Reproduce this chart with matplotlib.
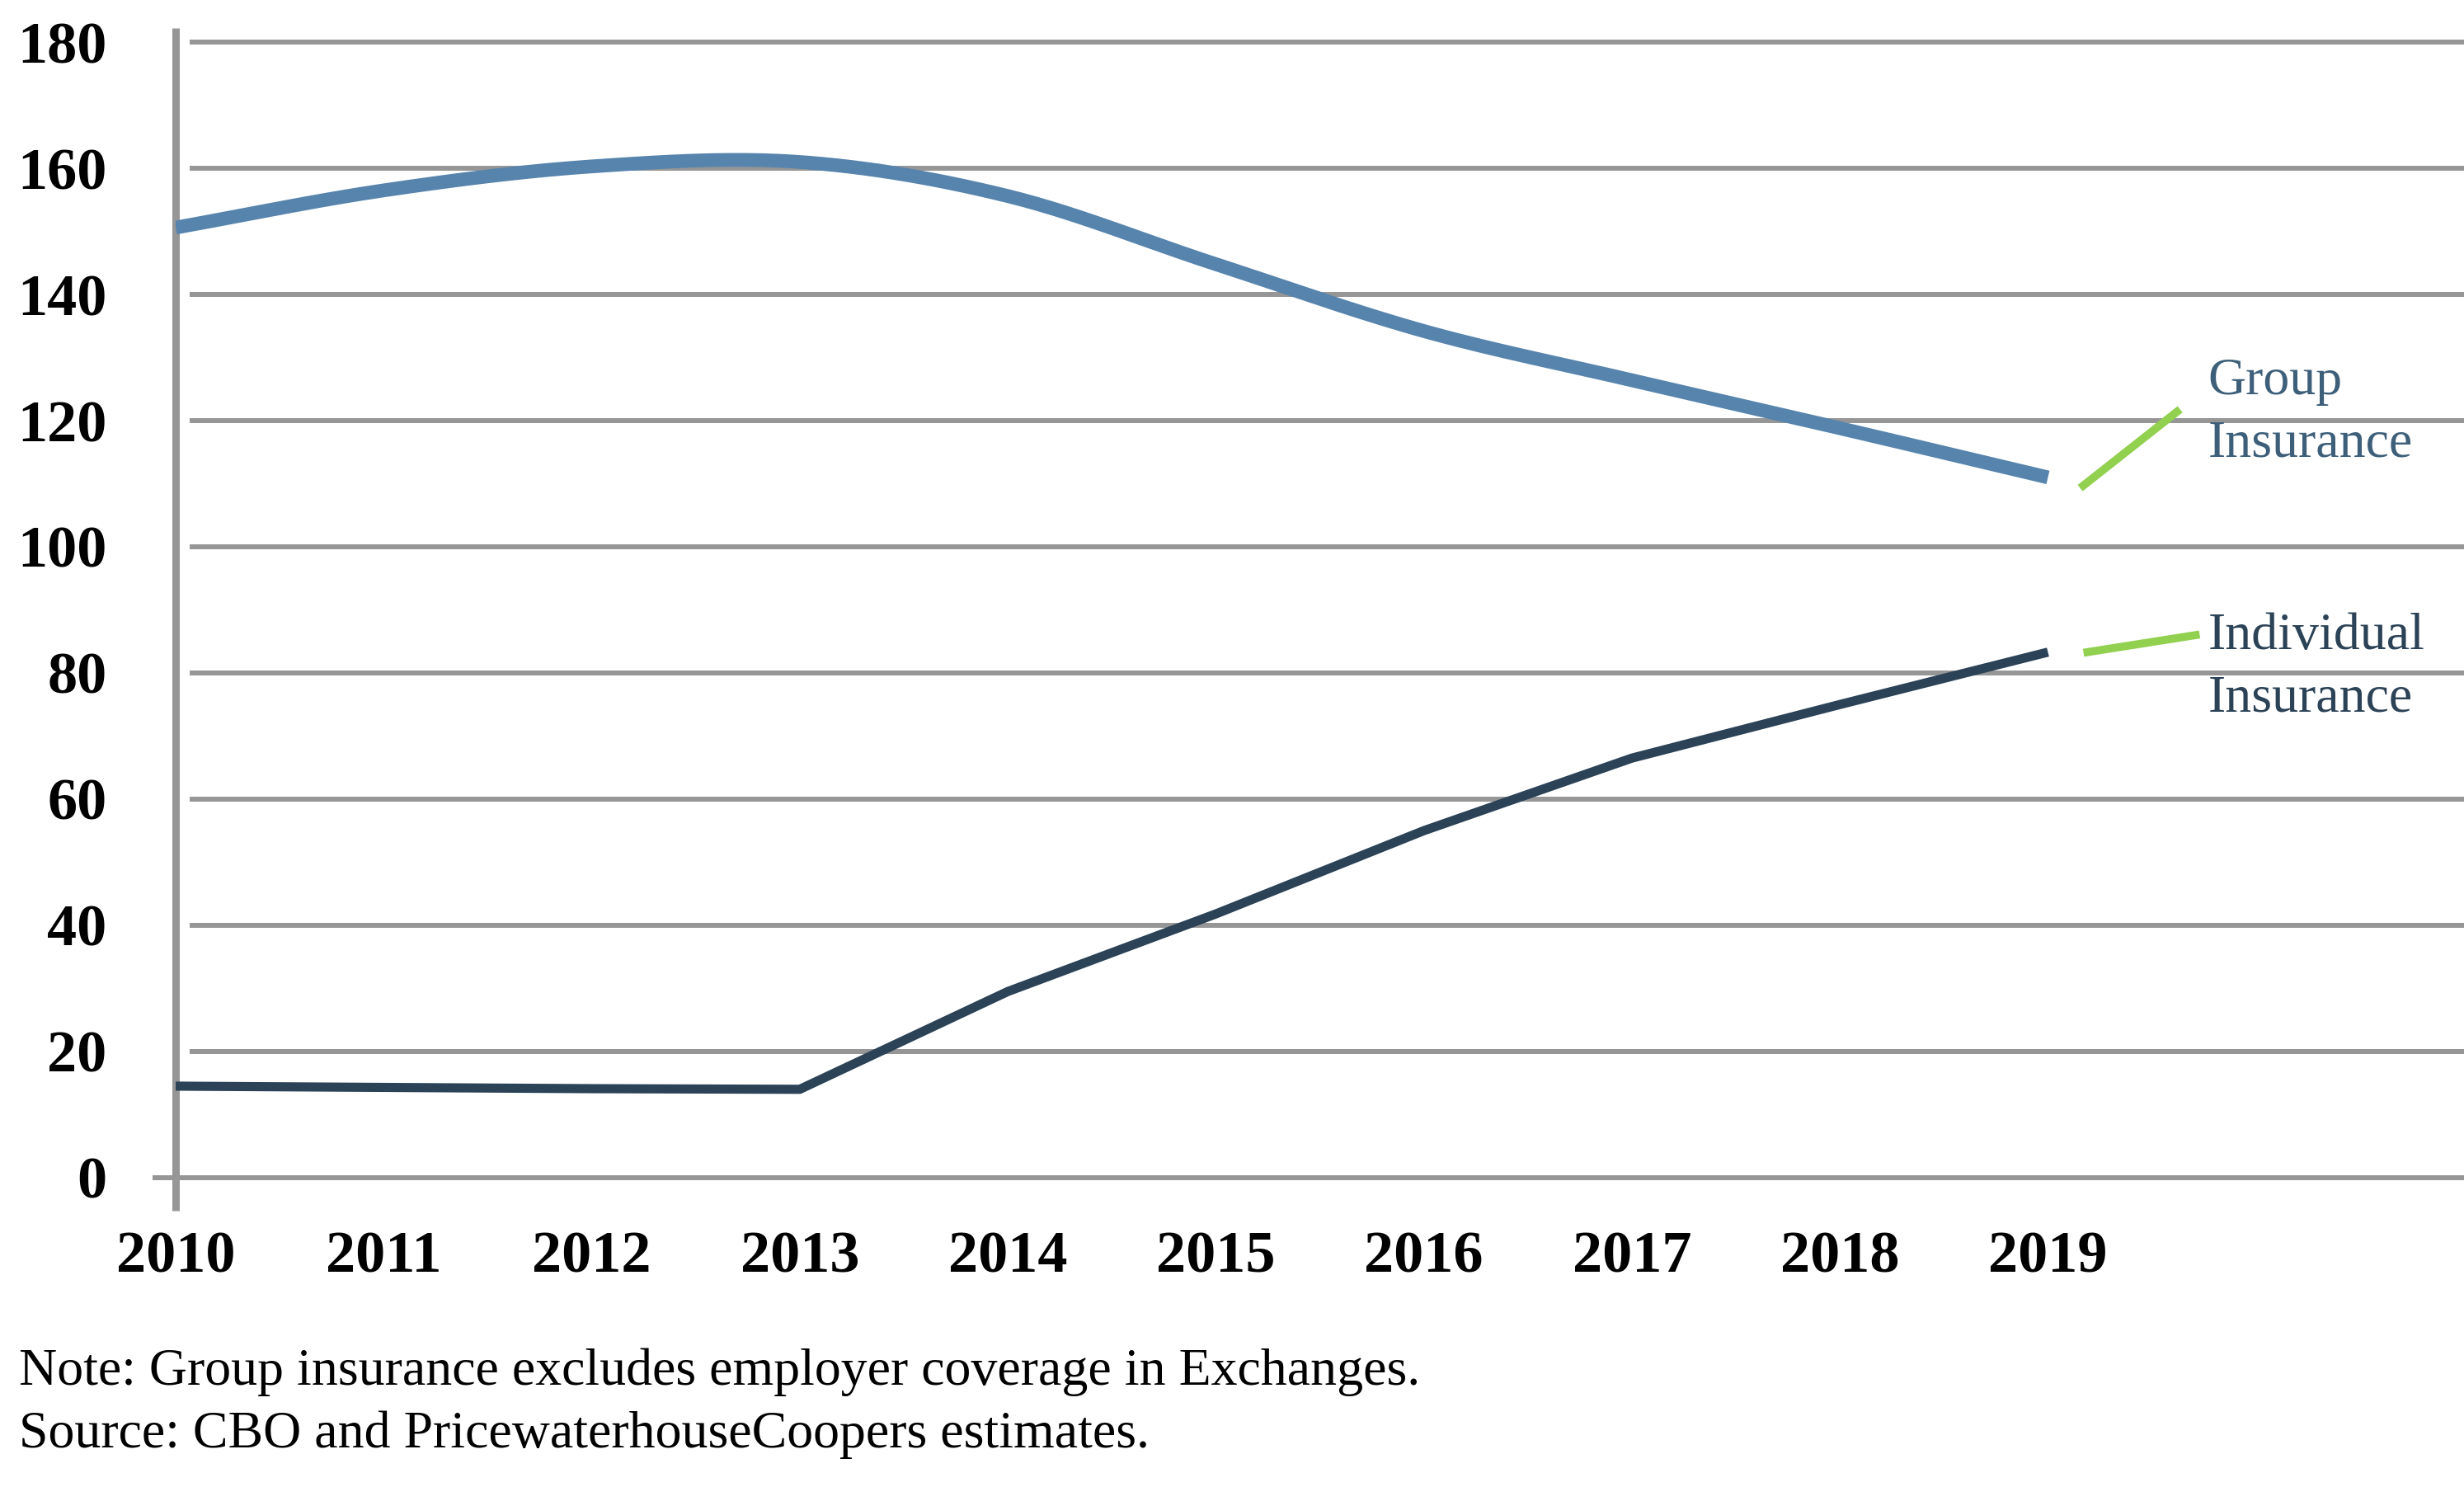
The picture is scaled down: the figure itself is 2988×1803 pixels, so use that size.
import numpy as np
import matplotlib.pyplot as plt

years = [2010, 2011, 2012, 2013, 2014, 2015, 2016, 2017, 2018, 2019]
group = [150.6, 156.5, 160.3, 161.0, 155.6, 144.8, 134.2, 126.4, 118.8, 111.0]
individual = [14.5, 14.3, 14.1, 14.0, 29.5, 41.8, 55.0, 66.5, 75.0, 83.3]
yticks = [0, 20, 40, 60, 80, 100, 120, 140, 160, 180]

serif = ['Liberation Serif', 'DejaVu Serif']
grid_col = '#969696'


def smooth(x, y, n=30):
    # catmull-rom style curve through the points, like a smoothed excel line
    x = np.asarray(x, float)
    y = np.asarray(y, float)
    px = np.concatenate([[2 * x[0] - x[1]], x, [2 * x[-1] - x[-2]]])
    py = np.concatenate([[2 * y[0] - y[1]], y, [2 * y[-1] - y[-2]]])
    t = np.linspace(0, 1, n)
    xs, ys = [], []
    for i in range(1, len(px) - 2):
        for p, out in ((px, xs), (py, ys)):
            p0, p1, p2, p3 = p[i - 1], p[i], p[i + 1], p[i + 2]
            out.append(0.5 * (2 * p1 + (-p0 + p2) * t
                              + (2 * p0 - 5 * p1 + 4 * p2 - p3) * t ** 2
                              + (-p0 + 3 * p1 - 3 * p2 + p3) * t ** 3))
    return np.concatenate(xs), np.concatenate(ys)


fig = plt.figure(figsize=(29.88, 18.03), dpi=100)
ax = fig.add_axes([0.0713, 0.186, 0.9287, 0.795])
ax.set_xlim(2010, 2021)
ax.set_ylim(-5.2, 182.2)
for s in ax.spines.values():
    s.set_visible(False)

for v in yticks:
    x0 = 2009.9 if v == 0 else 2010.08
    ax.plot([x0, 2021], [v, v], color=grid_col, lw=4.3, clip_on=False, zorder=1)
ax.plot([2010, 2010], [-5.2, 182.2], color=grid_col, lw=6.5, clip_on=False,
        solid_capstyle='butt', zorder=2)

gx, gy = smooth(years, group)
ax.plot(gx, gy, color='#5784ad', lw=12, solid_capstyle='butt', zorder=3)
ax.plot(years, individual, color='#2b4257', lw=8, solid_capstyle='butt', zorder=3)

# green leader lines to the labels
ax.plot([2019.17, 2019.62], [109.7, 121.4], color='#92d050', lw=7, zorder=3)
ax.plot([2019.19, 2019.71], [83.3, 86.0], color='#92d050', lw=7, zorder=3)
ax.text(2019.77, 121.2, 'Group\nInsurance', color='#3d5f7a', fontsize=46,
        family=serif, va='center', ha='left', linespacing=1.4)
ax.text(2019.77, 80.8, 'Individual\nInsurance', color='#2b4257', fontsize=46,
        family=serif, va='center', ha='left', linespacing=1.4)

ax.set_yticks(yticks)
ax.set_yticklabels([str(v) for v in yticks], fontsize=52, fontweight='bold', family=serif)
ax.set_xticks(years)
ax.set_xticklabels([str(v) for v in years], fontsize=52, fontweight='bold', family=serif)
ax.tick_params(axis='y', length=0, pad=60)
ax.tick_params(axis='x', length=0, pad=18)

fig.text(0.0077, 0.077, 'Note: Group insurance excludes employer coverage in Exchanges.',
         fontsize=46, family=serif, va='center')
fig.text(0.0077, 0.035, 'Source: CBO and PricewaterhouseCoopers estimates.',
         fontsize=46, family=serif, va='center')

fig.savefig('out.png', dpi=100)
